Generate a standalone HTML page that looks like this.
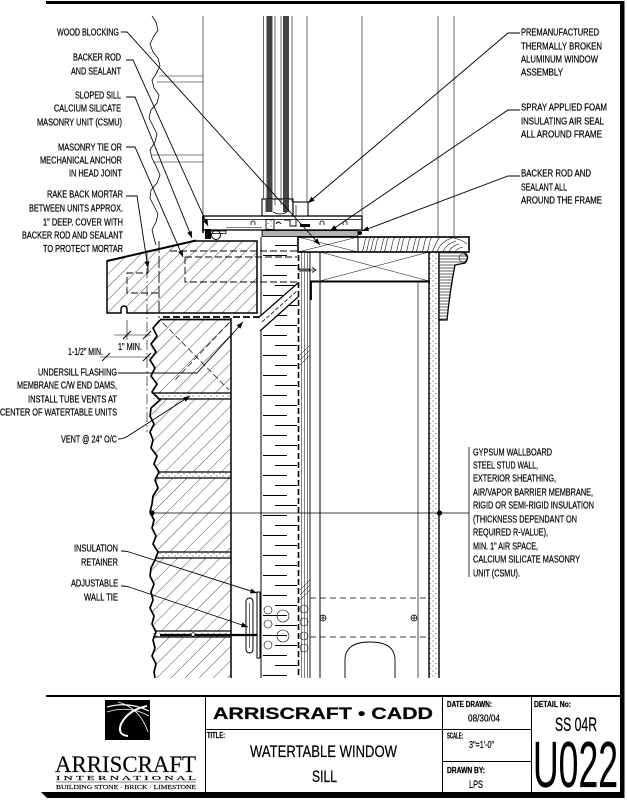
<!DOCTYPE html>
<html><head><meta charset="utf-8">
<style>
html,body{margin:0;padding:0;background:#fff;}
svg{display:block;}
text{font-family:"Liberation Sans",Arial,sans-serif;fill:#000;stroke:#000;stroke-width:0.22;}
.l{font-size:9.7px;}
.s{font-family:"Liberation Serif","Times New Roman",serif;stroke-width:0.15;}
</style></head><body>
<svg width="627" height="800" viewBox="0 0 627 800" xmlns="http://www.w3.org/2000/svg">
<defs>
 <pattern id="h" width="10" height="10" patternUnits="userSpaceOnUse" patternTransform="rotate(45)">
  <line x1="0" y1="0" x2="0" y2="10" stroke="#000" stroke-width="0.7"/>
 </pattern>
 <pattern id="h2" width="9" height="9" patternUnits="userSpaceOnUse" patternTransform="rotate(45)">
  <line x1="0" y1="0" x2="0" y2="9" stroke="#000" stroke-width="0.7"/>
 </pattern>
 <pattern id="st" width="6" height="5" patternUnits="userSpaceOnUse">
  <circle cx="1" cy="1" r="0.5" fill="#000"/><circle cx="4" cy="3.5" r="0.45" fill="#000"/>
 </pattern>
 <pattern id="vt" width="2" height="6" patternUnits="userSpaceOnUse">
  <line x1="1" y1="0" x2="1" y2="6" stroke="#000" stroke-width="0.6"/>
 </pattern>
 <pattern id="ins" x="261" y="245" width="37" height="20" patternUnits="userSpaceOnUse">
  <line x1="14" y1="0.5" x2="36" y2="0.5" stroke="#000" stroke-width="0.9"/>
  <line x1="2" y1="10.5" x2="26" y2="10.5" stroke="#000" stroke-width="0.9"/>
 </pattern>
 <pattern id="hz" width="10" height="3" patternUnits="userSpaceOnUse">
  <line x1="0" y1="1" x2="10" y2="1" stroke="#000" stroke-width="0.6"/>
 </pattern>
 <marker id="a" viewBox="0 0 8 6" refX="8" refY="3" markerWidth="7" markerHeight="5" markerUnits="userSpaceOnUse" orient="auto">
  <path d="M0,0 L8,3 L0,6 z" fill="#000"/>
 </marker>
 <clipPath id="mold"><path d="M439,252 H463 Q471,256 465,263 L455,265 Q450,290 447,320 H439 Z"/></clipPath>
</defs>

<!-- FRAME -->
<rect x="46" y="1" width="578" height="3" fill="#000"/>
<rect x="620" y="1" width="4.5" height="797" fill="#000"/>
<polygon points="41,792 624,792 624,798 47,798" fill="#000"/>
<rect x="46" y="695" width="576" height="2" fill="#000"/>
<line x1="205.5" y1="697" x2="205.5" y2="792" stroke="#000" stroke-width="1"/>
<line x1="442.5" y1="697" x2="442.5" y2="792" stroke="#000" stroke-width="1"/>
<line x1="531.5" y1="697" x2="531.5" y2="792" stroke="#000" stroke-width="1"/>
<line x1="205" y1="729.5" x2="531" y2="729.5" stroke="#000" stroke-width="1"/>
<line x1="442" y1="761.5" x2="531" y2="761.5" stroke="#000" stroke-width="1"/>

<!-- UPPER STONE (elevation) -->
<path d="M152,16 L156,22 L158,30 L154,36 L150,44 L153,52 L158,58 L160,66 L156,74 L152,80 L154,88 L159,95 L157,103 L151,110 L149,118 L153,126 L157,134 L155,142 L150,150 L152,158 L156,166 L160,175 L157,183 L151,190 L150,198 L154,206 L158,214 L156,222 L152,230 L154,238 L156,245" fill="none" stroke="#000" stroke-width="0.8"/>
<g stroke="#000" stroke-width="0.6">
 <line x1="159" y1="76" x2="203" y2="76"/><line x1="157" y1="82" x2="203" y2="82"/>
 <line x1="152" y1="155" x2="203" y2="155"/><line x1="153" y1="162" x2="203" y2="162"/>
</g>

<!-- window verticals -->
<g stroke="#000" stroke-width="0.6" fill="none">
 <line x1="203" y1="16" x2="203" y2="216"/>
 <line x1="263.5" y1="16" x2="263.5" y2="199"/>
 <line x1="275" y1="16" x2="275" y2="205"/>
 <line x1="281" y1="16" x2="281" y2="205"/>
 <line x1="292" y1="16" x2="292" y2="202"/>
 <line x1="307" y1="16" x2="307" y2="202"/>
 <line x1="362" y1="16" x2="362" y2="216"/>
 <line x1="438" y1="16" x2="438" y2="237"/>
 <line x1="454" y1="16" x2="454" y2="237"/>
</g>
<rect x="266.5" y="16" width="6" height="194" fill="#444"/>
<rect x="283" y="16" width="6" height="194" fill="#444"/>

<!-- window frame -->
<rect x="203" y="216" width="159" height="14" fill="#fff" stroke="#000" stroke-width="1.3"/>
<line x1="204" y1="219.5" x2="361" y2="219.5" stroke="#000" stroke-width="0.7"/>
<line x1="226" y1="227.5" x2="262" y2="227.5" stroke="#000" stroke-width="0.6"/>
<rect x="262" y="199" width="31" height="17" fill="none" stroke="#000" stroke-width="1.1"/>
<rect x="265.5" y="199" width="7" height="13" fill="#444"/>
<rect x="283" y="199" width="6" height="13" fill="#444"/>
<path d="M273,212 Q280,216 287,212" fill="none" stroke="#000" stroke-width="0.8"/>
<rect x="293" y="202" width="15" height="14" fill="#fff" stroke="#000" stroke-width="1.1"/>
<line x1="296" y1="205" x2="296" y2="216" stroke="#000" stroke-width="0.6"/>
<rect x="266" y="219.5" width="8" height="10" fill="url(#st)" stroke="#000" stroke-width="0.9"/>
<path d="M284,220 H290 V226 H296 V220 M276,224 Q278,220 281,224" fill="none" stroke="#000" stroke-width="0.9"/>
<g fill="none" stroke="#000" stroke-width="0.8">
 <path d="M251,225 v-2 a2,2 0 1 1 4,0 v2"/>
 <path d="M320,225 v-2 a2,2 0 1 1 4,0 v2"/>
 <path d="M343,225 v-2 a2,2 0 1 1 4,0 v2"/>
</g>
<rect x="300" y="224" width="10" height="3" fill="#000"/>
<line x1="203" y1="216" x2="203" y2="233" stroke="#000" stroke-width="1.6"/>
<rect x="205" y="229" width="6" height="10" fill="#000"/>
<circle cx="216" cy="235" r="4.5" fill="#fff" stroke="#000" stroke-width="1"/>
<path d="M209,231 H226 V233.5 H211" fill="none" stroke="#000" stroke-width="0.8"/>
<rect x="262" y="230.5" width="96" height="6" fill="url(#vt)" stroke="#000" stroke-width="0.8"/>
<circle cx="360" cy="233" r="2" fill="#000"/>

<!-- MASONRY lower -->
<path d="M160,320 L153,328 L157,336 L151,344 L156,352 L150,360 L155,368 L151,376 L157,384 L152,392 L160,400 L151,408 L150,416 L154,424 L150,432 L153,440 L151,448 L157,456 L154,464 L159,472 L155,480 L158,488 L153,496 L152,504 L150,512 L154,520 L152,528 L156,536 L153,544 L158,552 L155,560 L151,568 L150,576 L154,584 L151,592 L153,600 L150,608 L154,616 L152,624 L156,632 L153,640 L155,648 L152,656 L156,664 L154,672 L155,678 L231,678 L231,320 Z" fill="url(#h)" stroke="none"/>
<g>
 <rect x="152" y="393" width="79" height="6" fill="#fff"/><rect x="152" y="393" width="79" height="6" fill="url(#st)"/>
 <rect x="155" y="472" width="76" height="6" fill="#fff"/><rect x="155" y="472" width="76" height="6" fill="url(#st)"/>
 <rect x="155" y="552" width="76" height="6" fill="#fff"/><rect x="155" y="552" width="76" height="6" fill="url(#st)"/>
 <rect x="153" y="631" width="78" height="6" fill="#fff"/><rect x="153" y="631" width="78" height="6" fill="url(#st)"/>
</g>
<g stroke="#000" stroke-width="1.2">
 <line x1="152" y1="393" x2="231" y2="393"/><line x1="158" y1="399" x2="231" y2="399"/>
 <line x1="158" y1="472" x2="231" y2="472"/><line x1="155" y1="478" x2="231" y2="478"/>
 <line x1="157" y1="552" x2="231" y2="552"/><line x1="155" y1="558" x2="231" y2="558"/>
 <line x1="155" y1="631" x2="231" y2="631"/><line x1="153" y1="637" x2="231" y2="637"/>
</g>
<path d="M160,320 L153,328 L157,336 L151,344 L156,352 L150,360 L155,368 L151,376 L157,384 L152,392 L160,400 L151,408 L150,416 L154,424 L150,432 L153,440 L151,448 L157,456 L154,464 L159,472 L155,480 L158,488 L153,496 L152,504 L150,512 L154,520 L152,528 L156,536 L153,544 L158,552 L155,560 L151,568 L150,576 L154,584 L151,592 L153,600 L150,608 L154,616 L152,624 L156,632 L153,640 L155,648 L152,656 L156,664 L154,672 L155,678" fill="none" stroke="#000" stroke-width="1.7"/>
<line x1="231" y1="318" x2="231" y2="678" stroke="#000" stroke-width="1.5"/>
<line x1="160" y1="319.5" x2="231" y2="319.5" stroke="#000" stroke-width="1.8"/>
<g stroke="#000" stroke-width="0.7" stroke-dasharray="6,3" fill="none">
 <line x1="163" y1="323" x2="229" y2="390"/>
 <line x1="229" y1="323" x2="175" y2="380"/>
</g>

<!-- SILL CSMU -->
<path d="M107,261 L194,241 L257,241 L257,313 L127,313 L127,309 A3,3 0 0 0 121,309 L121,313 L107,313 Z" fill="url(#h2)" stroke="#000" stroke-width="1.5"/>
<line x1="107" y1="261" x2="196" y2="240.5" stroke="#000" stroke-width="2"/>
<g stroke="#000" stroke-width="0.9" stroke-dasharray="7,3" fill="none">
 <path d="M170,251 H297"/>
 <path d="M185,257 H297 M185,257 V282 H297"/>
 <path d="M148,268 V273 H127 V293 H158"/>
 <path d="M159,241 V318" stroke-dasharray="12,3"/>
 <path d="M163,317 H260" stroke-width="1.8"/>
</g>

<!-- INSULATION column -->
<rect x="261" y="237" width="37" height="441" fill="url(#ins)"/>
<line x1="261" y1="237" x2="261" y2="318" stroke="#000" stroke-width="1"/>
<line x1="261" y1="330" x2="261" y2="678" stroke="#000" stroke-width="1"/>
<polygon points="258,318 298,283 298,297 260,331" fill="#fff"/>
<line x1="258" y1="318" x2="298" y2="283" stroke="#000" stroke-width="1.2"/>
<line x1="260" y1="331" x2="298" y2="297" stroke="#000" stroke-width="1.2"/>
<line x1="262" y1="322" x2="297" y2="291" stroke="#000" stroke-width="0.8" stroke-dasharray="4,2"/>
<line x1="298.5" y1="237" x2="298.5" y2="678" stroke="#000" stroke-width="1.6" stroke-dasharray="6,3"/>
<g stroke="#000" stroke-width="0.5">
 <line x1="301.5" y1="252" x2="301.5" y2="678"/>
 <line x1="304.5" y1="252" x2="304.5" y2="678"/>
 <line x1="307.5" y1="252" x2="307.5" y2="678"/>
</g>
<line x1="310" y1="252" x2="310" y2="678" stroke="#000" stroke-width="0.9"/>
<g stroke="#000" stroke-width="0.5">
 <line x1="300" y1="355" x2="310" y2="345"/><line x1="300" y1="360" x2="310" y2="350"/><line x1="300" y1="365" x2="310" y2="355"/>
 <line x1="300" y1="590" x2="310" y2="580"/><line x1="300" y1="595" x2="310" y2="585"/><line x1="300" y1="600" x2="310" y2="590"/>
</g>

<!-- STUD WALL -->
<line x1="320" y1="252" x2="320" y2="678" stroke="#000" stroke-width="1"/>
<line x1="418" y1="281" x2="418" y2="678" stroke="#000" stroke-width="0.7"/>
<rect x="320" y="252" width="109" height="29" fill="#fff" stroke="#000" stroke-width="1"/>
<line x1="320" y1="252" x2="429" y2="281" stroke="#000" stroke-width="0.5"/>
<line x1="320" y1="281" x2="429" y2="252" stroke="#000" stroke-width="0.5"/>
<line x1="310" y1="281.5" x2="430" y2="281.5" stroke="#000" stroke-width="2"/>
<line x1="311" y1="282" x2="311" y2="300" stroke="#000" stroke-width="1.8"/>
<rect x="429" y="252" width="10" height="426" fill="url(#st)"/>
<line x1="429" y1="252" x2="429" y2="678" stroke="#000" stroke-width="1.4"/>
<line x1="439" y1="252" x2="439" y2="678" stroke="#000" stroke-width="1.4"/>
<!-- screw -->
<path d="M298,270 H314 M300,268 V272 M303,268 V272 M306,268 V272 M309,268 V272" stroke="#000" stroke-width="0.8" fill="none"/>
<path d="M312,267.5 L316,270 L312,272.5" fill="none" stroke="#000" stroke-width="0.8"/>

<!-- WOOD SILL -->
<rect x="298" y="237" width="171" height="15" fill="#fff" stroke="#000" stroke-width="1.6"/>
<line x1="358" y1="237" x2="358" y2="252" stroke="#000" stroke-width="1"/>
<line x1="298" y1="237" x2="358" y2="252" stroke="#000" stroke-width="0.5"/>
<line x1="298" y1="252" x2="358" y2="237" stroke="#000" stroke-width="0.5"/>
<g fill="none" stroke="#000" stroke-width="0.55">
 <path d="M362,252 C365,247 363,242 367,237"/><path d="M366,252 C369,247 367,242 371,237"/>
 <path d="M370,252 C373,247 371,242 375,237"/><path d="M374,252 C377,247 375,242 379,237"/>
 <path d="M380,252 C383,247 381,242 385,237"/><path d="M384,252 C387,247 385,242 389,237"/>
 <path d="M390,252 C393,247 391,242 395,237"/><path d="M396,252 C399,247 397,242 401,237"/>
 <path d="M400,252 C403,247 401,242 405,237"/><path d="M406,252 C409,247 407,242 411,237"/>
 <path d="M412,252 C415,247 413,242 417,237"/><path d="M416,252 C419,247 417,242 421,237"/>
 <path d="M422,252 C425,247 423,242 427,237"/><path d="M427,252 C430,247 428,242 432,237"/>
 <path d="M432,252 C435,247 436,241 440,237"/>
 <path d="M437,252 Q440,242 452,238"/>
 <path d="M443,252 Q446,244 456,241"/>
 <path d="M449,252 Q451,246 459,244"/>
 <path d="M455,252 Q457,248 463,247"/>
 <path d="M446,237 Q460,238 467,244"/>
</g>
<!-- molding -->
<path d="M439,252 H463 Q471,256 465,263 L455,265 Q450,290 447,320 H439 Z" fill="#fff" stroke="#000" stroke-width="1.3"/>
<rect x="439" y="252" width="32" height="70" fill="url(#hz)" clip-path="url(#mold)"/>
<circle cx="463" cy="258" r="4" fill="none" stroke="#000" stroke-width="0.6"/>

<!-- lower stud details -->
<g stroke="#000" stroke-width="0.8" stroke-dasharray="6,4">
 <line x1="310" y1="598" x2="429" y2="598"/>
 <line x1="310" y1="637" x2="429" y2="637"/>
</g>
<g fill="none" stroke="#000" stroke-width="0.7">
 <circle cx="323" cy="618" r="3"/><path d="M320,618 H326 M323,615 V621"/>
 <circle cx="414" cy="618" r="3"/><path d="M411,618 H417 M414,615 V621"/>
</g>
<path d="M345,678 V660 Q345,642 370,642 Q395,642 395,660 V678" fill="none" stroke="#000" stroke-width="0.9"/>
<g fill="none" stroke="#000" stroke-width="0.6">
 <circle cx="268" cy="610" r="4"/><circle cx="283" cy="616" r="6"/><circle cx="268" cy="624" r="4"/>
 <circle cx="283" cy="636" r="6"/><circle cx="268" cy="645" r="4"/><circle cx="304" cy="609" r="4"/>
 <circle cx="304" cy="622" r="4"/><circle cx="304" cy="636" r="4"/><circle cx="304" cy="648" r="4"/>
</g>
<!-- wall tie -->
<rect x="246" y="598" width="7" height="55" rx="3.5" fill="#fff" stroke="#000" stroke-width="1"/>
<line x1="249.5" y1="603" x2="249.5" y2="648" stroke="#000" stroke-width="0.6"/>
<rect x="257" y="592" width="3" height="66" fill="#fff" stroke="#000" stroke-width="1"/>
<line x1="160" y1="635" x2="257" y2="635" stroke="#000" stroke-width="2.2"/>
<circle cx="193" cy="634.5" r="1.8" fill="#fff" stroke="#000" stroke-width="0.6"/>

<!-- section line & bracket -->
<line x1="150" y1="513" x2="469" y2="513" stroke="#000" stroke-width="0.8"/>
<circle cx="152" cy="513" r="2.6" fill="#000"/>
<circle cx="439.5" cy="513" r="2.6" fill="#000"/>
<line x1="469" y1="447" x2="469" y2="577" stroke="#000" stroke-width="0.8"/>

<!-- dimensions -->
<g stroke="#000" stroke-width="0.6" fill="none">
 <line x1="127" y1="320" x2="127" y2="340"/>
 <line x1="147" y1="250" x2="147" y2="432" stroke-dasharray="10,3,2,3"/>
 <line x1="114" y1="335" x2="151" y2="335"/>
 <line x1="123" y1="339" x2="131" y2="331" stroke-width="1"/>
 <line x1="143" y1="339" x2="151" y2="331" stroke-width="1"/>
 <line x1="100" y1="357" x2="150" y2="357"/>
 <line x1="102" y1="361" x2="110" y2="353" stroke-width="1"/>
 <line x1="143" y1="361" x2="151" y2="353" stroke-width="1"/>
</g>

<!-- LEADERS -->
<g fill="none" stroke="#000" stroke-width="0.9" marker-end="url(#a)">
 <path d="M121,32 L127,32 L320,245"/>
 <path d="M126,60 L133,60 L208,226"/>
 <path d="M126,97 L135,97 L192,238"/>
 <path d="M126,147 L135,147 L183,257"/>
 <path d="M126,196 L137,196 L148,268"/>
 <path d="M520,33 L508,33 L308,203"/>
 <path d="M520,110 L508,110 L330,231"/>
 <path d="M520,176 L508,176 L362,231"/>
 <path d="M118,373 L197,373 L243,322"/>
 <path d="M118,439 Q124,439 128,436 L190,396"/>
 <path d="M121,551 Q126,551 129,552 L257,593"/>
 <path d="M121,586 Q126,586 129,587 L248,627"/>
</g>

<!-- LABELS left -->
<g class="l">
 <text x="57" y="35.5" textLength="62" lengthAdjust="spacingAndGlyphs">WOOD BLOCKING</text>
 <text x="73" y="60.5" textLength="48" lengthAdjust="spacingAndGlyphs">BACKER ROD</text>
 <text x="71" y="74.5" textLength="50" lengthAdjust="spacingAndGlyphs">AND SEALANT</text>
 <text x="75" y="98.5" textLength="46" lengthAdjust="spacingAndGlyphs">SLOPED SILL</text>
 <text x="54" y="111.5" textLength="67" lengthAdjust="spacingAndGlyphs">CALCIUM SILICATE</text>
 <text x="37" y="125.5" textLength="85" lengthAdjust="spacingAndGlyphs">MASONRY UNIT (CSMU)</text>
 <text x="58" y="150.5" textLength="64" lengthAdjust="spacingAndGlyphs">MASONRY TIE OR</text>
 <text x="40" y="163.5" textLength="82" lengthAdjust="spacingAndGlyphs">MECHANICAL ANCHOR</text>
 <text x="69" y="176.5" textLength="53" lengthAdjust="spacingAndGlyphs">IN HEAD JOINT</text>
 <text x="47" y="197.5" textLength="76" lengthAdjust="spacingAndGlyphs">RAKE BACK MORTAR</text>
 <text x="29" y="211.5" textLength="94" lengthAdjust="spacingAndGlyphs">BETWEEN UNITS APPROX.</text>
 <text x="43" y="225.5" textLength="80" lengthAdjust="spacingAndGlyphs">1" DEEP.  COVER WITH</text>
 <text x="22" y="238.5" textLength="101" lengthAdjust="spacingAndGlyphs">BACKER ROD AND SEALANT</text>
 <text x="43" y="252" textLength="80" lengthAdjust="spacingAndGlyphs">TO PROTECT MORTAR</text>

 <text x="68" y="355" textLength="35" lengthAdjust="spacingAndGlyphs">1-1/2" MIN.</text>
 <text x="118" y="350" textLength="24" lengthAdjust="spacingAndGlyphs">1" MIN.</text>
 <text x="38" y="375.5" textLength="79" lengthAdjust="spacingAndGlyphs">UNDERSILL FLASHING</text>
 <text x="17" y="388.5" textLength="100" lengthAdjust="spacingAndGlyphs">MEMBRANE C/W END DAMS,</text>
 <text x="28" y="402.5" textLength="89" lengthAdjust="spacingAndGlyphs">INSTALL TUBE VENTS AT</text>
 <text x="0" y="415.5" textLength="117" lengthAdjust="spacingAndGlyphs">CENTER OF WATERTABLE UNITS</text>
 <text x="61" y="442.5" textLength="56" lengthAdjust="spacingAndGlyphs">VENT @ 24" O/C</text>
 <text x="74" y="551.5" textLength="44" lengthAdjust="spacingAndGlyphs">INSULATION</text>
 <text x="81" y="565.5" textLength="37" lengthAdjust="spacingAndGlyphs">RETAINER</text>
 <text x="71" y="586.5" textLength="47" lengthAdjust="spacingAndGlyphs">ADJUSTABLE</text>
 <text x="84" y="600.5" textLength="34" lengthAdjust="spacingAndGlyphs">WALL TIE</text>

 <!-- right labels -->
 <text x="521" y="35.5" textLength="78" lengthAdjust="spacingAndGlyphs">PREMANUFACTURED</text>
 <text x="521" y="49.5" textLength="81" lengthAdjust="spacingAndGlyphs">THERMALLY BROKEN</text>
 <text x="521" y="62.5" textLength="77" lengthAdjust="spacingAndGlyphs">ALUMINUM WINDOW</text>
 <text x="521" y="75.5" textLength="42" lengthAdjust="spacingAndGlyphs">ASSEMBLY</text>
 <text x="521" y="110.5" textLength="86" lengthAdjust="spacingAndGlyphs">SPRAY APPLIED FOAM</text>
 <text x="521" y="124.5" textLength="83" lengthAdjust="spacingAndGlyphs">INSULATING AIR SEAL</text>
 <text x="521" y="137.5" textLength="81" lengthAdjust="spacingAndGlyphs">ALL AROUND FRAME</text>
 <text x="521" y="176.5" textLength="70" lengthAdjust="spacingAndGlyphs">BACKER ROD AND</text>
 <text x="521" y="190.5" textLength="46" lengthAdjust="spacingAndGlyphs">SEALANT ALL</text>
 <text x="521" y="203.5" textLength="81" lengthAdjust="spacingAndGlyphs">AROUND THE FRAME</text>

 <text x="473" y="455.5" textLength="79" lengthAdjust="spacingAndGlyphs">GYPSUM WALLBOARD</text>
 <text x="473" y="468.5" textLength="65" lengthAdjust="spacingAndGlyphs">STEEL STUD WALL,</text>
 <text x="473" y="481.5" textLength="83" lengthAdjust="spacingAndGlyphs">EXTERIOR SHEATHING,</text>
 <text x="473" y="495.5" textLength="120" lengthAdjust="spacingAndGlyphs">AIR/VAPOR BARRIER MEMBRANE,</text>
 <text x="473" y="508.5" textLength="121" lengthAdjust="spacingAndGlyphs">RIGID OR SEMI-RIGID INSULATION</text>
 <text x="473" y="522.5" textLength="104" lengthAdjust="spacingAndGlyphs">(THICKNESS DEPENDANT ON</text>
 <text x="473" y="535.5" textLength="75" lengthAdjust="spacingAndGlyphs">REQUIRED R-VALUE),</text>
 <text x="473" y="549.5" textLength="65" lengthAdjust="spacingAndGlyphs">MIN. 1" AIR SPACE,</text>
 <text x="473" y="562.5" textLength="107" lengthAdjust="spacingAndGlyphs">CALCIUM SILICATE MASONRY</text>
 <text x="473" y="576.5" textLength="47" lengthAdjust="spacingAndGlyphs">UNIT (CSMU).</text>
</g>

<!-- TITLE BLOCK TEXT -->
<text x="213" y="719" font-size="16.5" font-weight="bold" textLength="220" lengthAdjust="spacingAndGlyphs" stroke-width="0.4">ARRISCRAFT • CADD</text>
<text x="207" y="738" font-size="8" font-weight="bold" textLength="18" lengthAdjust="spacingAndGlyphs">TITLE:</text>
<text x="250" y="757" font-size="17" textLength="147" lengthAdjust="spacingAndGlyphs">WATERTABLE WINDOW</text>
<text x="312" y="782" font-size="17" textLength="25" lengthAdjust="spacingAndGlyphs">SILL</text>
<text x="447" y="707" font-size="8" font-weight="bold" textLength="45" lengthAdjust="spacingAndGlyphs">DATE DRAWN:</text>
<text x="468" y="721.5" font-size="10.5" textLength="32" lengthAdjust="spacingAndGlyphs">08/30/04</text>
<text x="447" y="738.5" font-size="8" font-weight="bold" textLength="16" lengthAdjust="spacingAndGlyphs">SCALE:</text>
<text x="469" y="748" font-size="10" textLength="25" lengthAdjust="spacingAndGlyphs">3"=1'-0"</text>
<text x="447" y="773" font-size="8" font-weight="bold" textLength="38" lengthAdjust="spacingAndGlyphs">DRAWN BY:</text>
<text x="469" y="788" font-size="11" textLength="14" lengthAdjust="spacingAndGlyphs">LPS</text>
<text x="534" y="707" font-size="8" font-weight="bold" textLength="37" lengthAdjust="spacingAndGlyphs">DETAIL No:</text>
<text x="555" y="731" font-size="19" textLength="42" lengthAdjust="spacingAndGlyphs">SS 04R</text>
<text x="533" y="787" font-size="65" textLength="85" lengthAdjust="spacingAndGlyphs" stroke-width="0.5">U022</text>

<!-- LOGO -->
<rect x="105" y="700" width="45" height="40" fill="#000"/>
<g fill="none" stroke="#fff">
 <path d="M107,707 Q128,701 149,711" stroke-width="1.2"/>
 <path d="M107,712 Q130,705 149,716" stroke-width="0.8"/>
 <path d="M147,706 Q128,710 121,724 Q117,735 128,736" stroke-width="2"/>
 <path d="M118,702 Q140,708 148,732" stroke-width="0.8"/>
</g>
<text class="s" x="55" y="772" font-size="23" textLength="141" lengthAdjust="spacingAndGlyphs">ARRISCRAFT</text>
<text class="s" x="56" y="780" font-size="6.5" textLength="140" lengthAdjust="spacingAndGlyphs">I N T E R N A T I O N A L</text>
<line x1="56" y1="782" x2="196" y2="782" stroke="#000" stroke-width="0.6"/>
<text class="s" x="56" y="789" font-size="6.5" textLength="140" lengthAdjust="spacingAndGlyphs">BUILDING STONE · BRICK · LIMESTONE</text>
</svg>
</body></html>
